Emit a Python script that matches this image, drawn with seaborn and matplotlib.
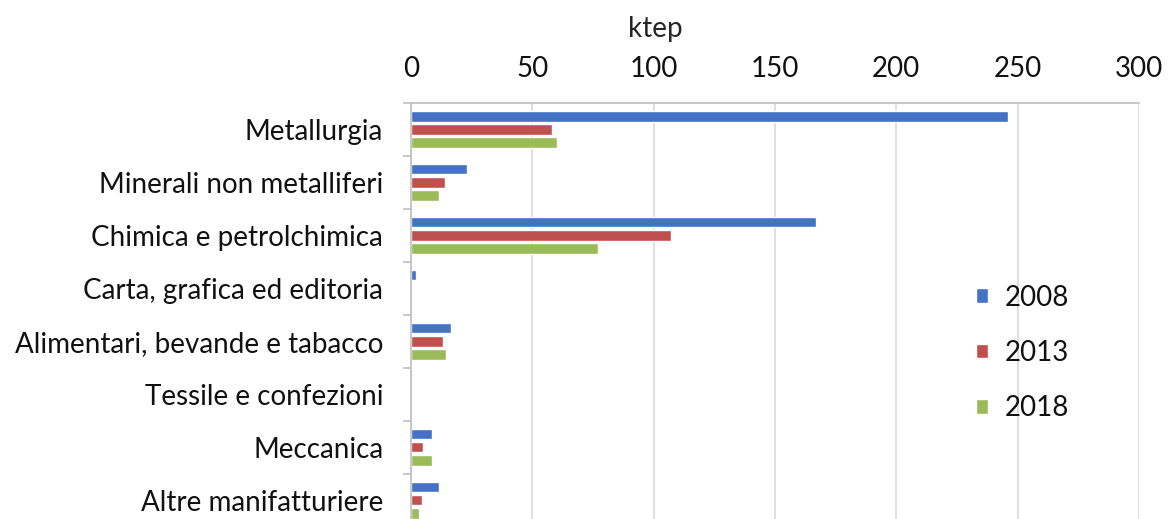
import pandas as pd
import numpy as np
import matplotlib.pyplot as plt
import seaborn as sns

# Dati (ktep)
settori = ["Metallurgia", "Minerali non metalliferi", "Chimica e petrolchimica",
           "Carta, grafica ed editoria", "Alimentari, bevande e tabacco",
           "Tessile e confezioni", "Meccanica", "Altre manifatturiere"]
anni = ["2008", "2013", "2018"]
v2008 = [246, 23, 167, 2, 16.5, 0, 8.5, 11.5]
v2013 = [58, 14, 107, 0, 13, 0, 5, 4.5]
v2018 = [60, 11.5, 77, 0, 14.5, 0, 8.5, 3.3]
colori = ["#4472C4", "#C0504D", "#9BBB59"]

veri = pd.DataFrame({
    "Settore": settori * 3,
    "Anno": [a for a in anni for _ in settori],
    "ktep": v2008 + v2013 + v2018,
})

sns.set_style("white")
plt.rcParams["font.family"] = ["Lato", "DejaVu Sans"]
plt.rcParams["text.color"] = "#111111"

fig = plt.figure(figsize=(11.71, 5.19), dpi=100)
ax = fig.add_axes([0.351, -0.0145, 0.6217, 0.8160])

sns.barplot(data=veri, y="Settore", x="ktep", hue="Anno", orient="h",
            palette=colori, width=0.75, gap=0.2, ax=ax, saturation=1)

ax.set_xlim(0, 300)
ax.set_ylim(len(settori) - 0.5, -0.5)
ax.xaxis.tick_top()
ax.xaxis.set_label_position("top")
ax.set_xticks(np.arange(0, 301, 50))
ax.set_xlabel("ktep", fontsize=20, labelpad=14)
ax.xaxis.label.set_x(0.335)
ax.set_ylabel("")
ax.tick_params(axis="x", length=0, labelsize=20, pad=15, labelcolor="#111111")
ax.tick_params(axis="y", which="major", length=0, labelsize=20, pad=20, labelcolor="#111111")
ax.set_yticks(np.arange(-0.5, len(settori), 1), minor=True)
ax.tick_params(axis="y", which="minor", left=True, length=6, color="#BFBFBF", width=1.2)
ax.grid(axis="x", color="#D9D9D9", linewidth=1.2)
ax.set_axisbelow(True)
for lato in ["left", "top"]:
    ax.spines[lato].set_color("#BFBFBF")
    ax.spines[lato].set_linewidth(1.2)
ax.spines["bottom"].set_visible(False)
ax.spines["right"].set_visible(False)

ax.legend(loc="center", bbox_to_anchor=(0.84, 0.41), frameon=False,
          fontsize=20, handlelength=0.45, handleheight=0.45,
          labelspacing=1.05, handletextpad=0.6)

fig.savefig("out.png", dpi=100)
